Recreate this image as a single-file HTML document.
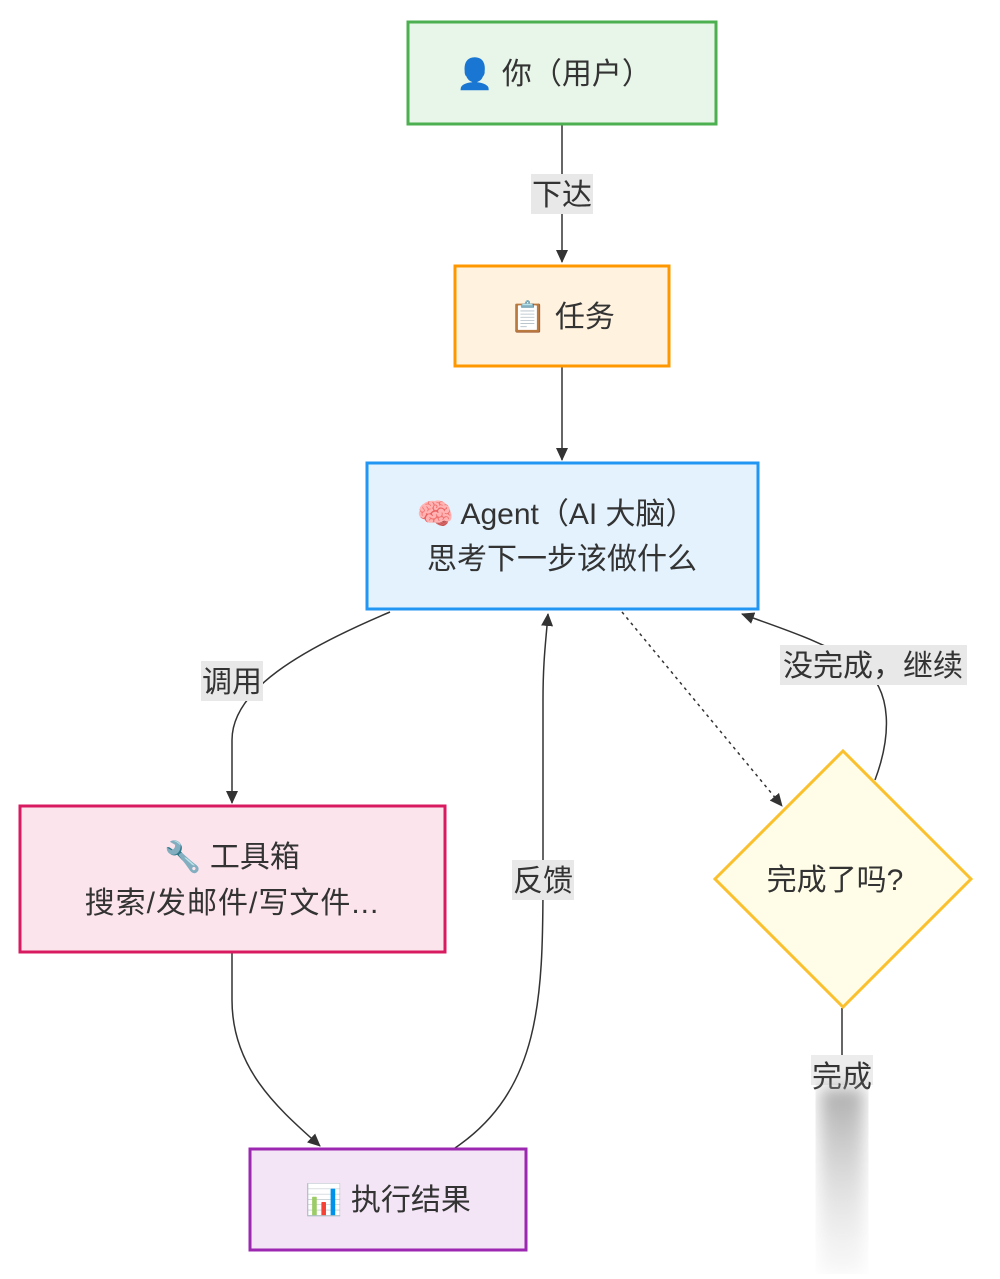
<!DOCTYPE html>
<html><head><meta charset="utf-8"><style>
html,body{margin:0;padding:0;background:#fff;}
svg text{font-family:"Liberation Sans","Noto Sans CJK SC",sans-serif;fill:#333;font-size:30px;}
</style></head><body>
<svg width="1000" height="1274" viewBox="0 0 1000 1274" xmlns="http://www.w3.org/2000/svg">
<defs>
<marker id="a" markerWidth="14" markerHeight="14" refX="12" refY="6" orient="auto" markerUnits="userSpaceOnUse">
<path d="M0,0 L13,6 L0,12 z" fill="#333"/></marker>
<linearGradient id="g" x1="0" y1="0" x2="0" y2="1"><stop offset="0" stop-color="#999" stop-opacity="0.8"/><stop offset="1" stop-color="#ddd" stop-opacity="0.2"/></linearGradient>
<filter id="bl"><feGaussianBlur stdDeviation="8"/></filter>
</defs>
<line x1="562" y1="125" x2="562" y2="262" stroke="#333" stroke-width="1.5" marker-end="url(#a)"/>
<line x1="562" y1="367" x2="562" y2="460" stroke="#333" stroke-width="1.5" marker-end="url(#a)"/>
<path d="M390,612 C300,650 232,690 232,740 L232,803" fill="none" stroke="#333" stroke-width="1.5" marker-end="url(#a)"/>
<path d="M232,953 L232,1000 C232,1070 280,1110 320,1146" fill="none" stroke="#333" stroke-width="1.5" marker-end="url(#a)"/>
<path d="M455,1148 C540,1090 543,1000 543,880 L543,700 C543,660 546,640 548,614" fill="none" stroke="#333" stroke-width="1.5" marker-end="url(#a)"/>
<path d="M622,612 L782,806" fill="none" stroke="#333" stroke-width="1.5" stroke-dasharray="3,4" marker-end="url(#a)"/>
<path d="M875,780 C890,740 895,690 860,665 C820,640 780,628 742,614" fill="none" stroke="#333" stroke-width="1.5" marker-end="url(#a)"/>
<line x1="842" y1="1008" x2="842" y2="1060" stroke="#333" stroke-width="1.5"/>
<rect x="408" y="22" width="308" height="102" fill="#e8f5e9" stroke="#4caf50" stroke-width="3"/>
<text x="554" y="84" text-anchor="middle">👤 你（用户）</text>
<rect x="455" y="266" width="214" height="100" fill="#fff3e0" stroke="#ff9800" stroke-width="3"/>
<text x="562" y="327" text-anchor="middle">📋 任务</text>
<rect x="367" y="463" width="391" height="146" fill="#e3f2fd" stroke="#2196f3" stroke-width="3"/>
<text x="556" y="524" text-anchor="middle">🧠 Agent（AI 大脑）</text>
<text x="562" y="569" text-anchor="middle">思考下一步该做什么</text>
<rect x="20" y="806" width="425" height="146" fill="#fce4ec" stroke="#d81b60" stroke-width="3"/>
<text x="232" y="867" text-anchor="middle">🔧 工具箱</text>
<text x="232" y="913" text-anchor="middle" letter-spacing="1">搜索/发邮件/写文件...</text>
<rect x="250" y="1149" width="276" height="101" fill="#f3e5f5" stroke="#9c27b0" stroke-width="3"/>
<text x="388" y="1210" text-anchor="middle">📊 执行结果</text>
<polygon points="843,751 971,879 843,1007 715,879" fill="#fffde7" stroke="#fbc02d" stroke-width="3"/>
<text x="835" y="890" text-anchor="middle">完成了吗?</text>
<rect x="531" y="174" width="62" height="40" fill="#e8e8e8"/>
<text x="562" y="205" text-anchor="middle">下达</text>
<rect x="201" y="661" width="62" height="40" fill="#e8e8e8"/>
<text x="232" y="692" text-anchor="middle">调用</text>
<rect x="512" y="860" width="62" height="40" fill="#e8e8e8"/>
<text x="543" y="891" text-anchor="middle">反馈</text>
<rect x="780" y="645" width="187" height="40" fill="#e8e8e8"/>
<text x="873" y="676" text-anchor="middle">没完成，继续</text>
<rect x="811" y="1055" width="62" height="30" fill="#ececec"/>
<text x="842" y="1087" text-anchor="middle">完成</text>
<rect x="820" y="1088" width="44" height="186" fill="url(#g)" filter="url(#bl)"/>
</svg>
</body></html>
